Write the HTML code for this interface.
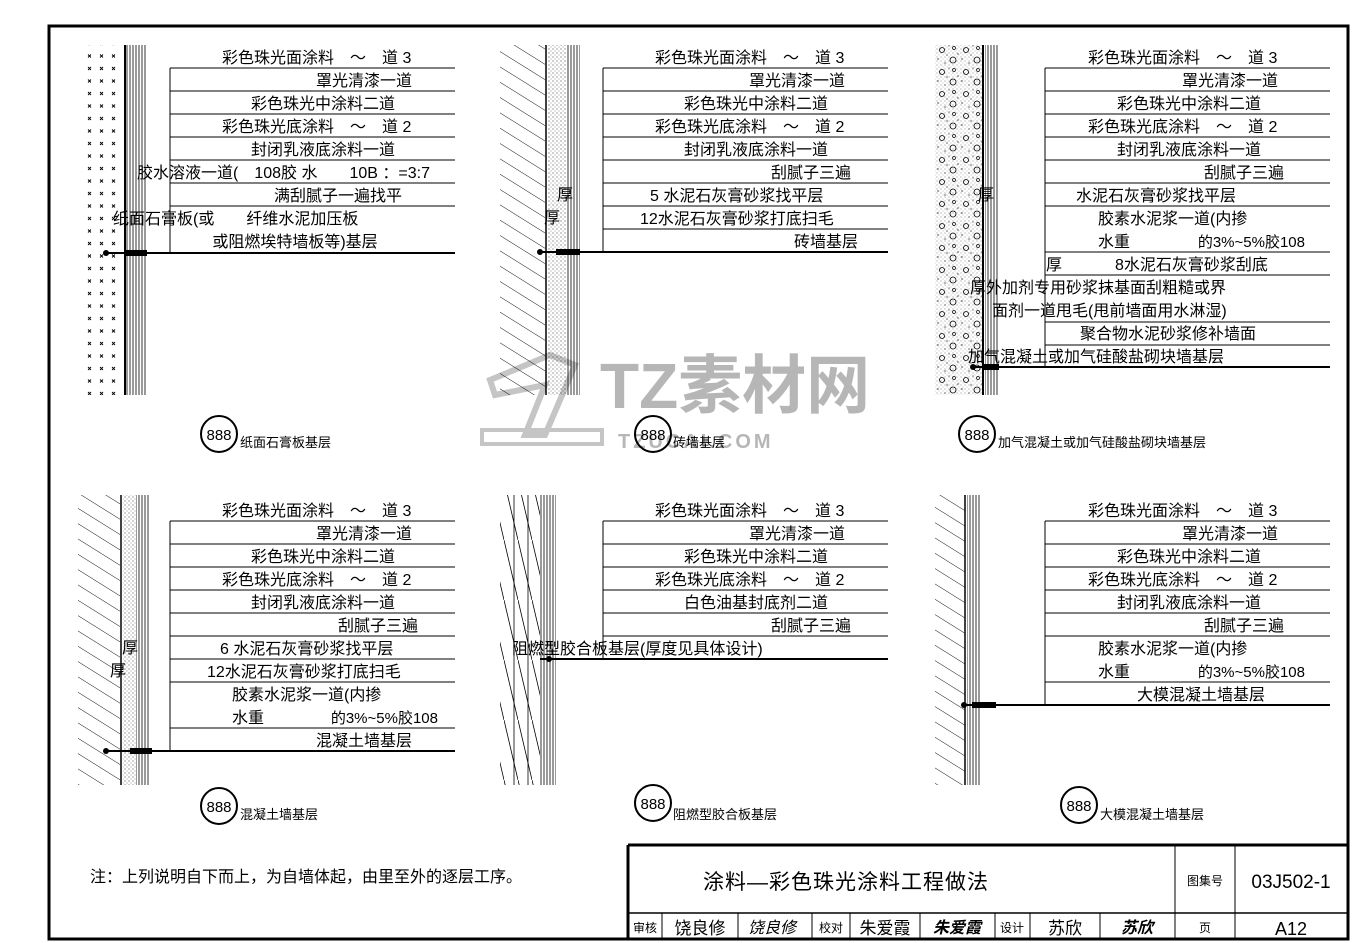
<!DOCTYPE html>
<html><head><meta charset="utf-8"><style>
html,body{margin:0;padding:0;background:#fff;}
svg{display:block}
text{font-family:"Liberation Sans","Noto Sans CJK SC",sans-serif;font-size:16px;fill:#000}
.s{font-size:13px}
</style></head><body>
<svg width="1366" height="943" viewBox="0 0 1366 943" xmlns="http://www.w3.org/2000/svg">
<defs>
<pattern id="xp" width="12" height="12.5" patternUnits="userSpaceOnUse"><path d="M4 4.5l3 3M7 4.5l-3 3" stroke="#000" stroke-width="0.9"/></pattern>
<pattern id="vl" width="3" height="10" patternUnits="userSpaceOnUse"><line x1="1" y1="0" x2="1" y2="10" stroke="#000" stroke-width="0.8"/></pattern>
<pattern id="hatch" width="13" height="20" patternUnits="userSpaceOnUse" patternTransform="rotate(-58)"><line x1="0" y1="0" x2="0" y2="20" stroke="#000" stroke-width="0.9"/></pattern>
<pattern id="dots" width="4" height="4" patternUnits="userSpaceOnUse"><circle cx="1" cy="1" r="0.5" fill="#000"/><circle cx="3" cy="3" r="0.4" fill="#000"/></pattern>
<pattern id="circ" width="24" height="22" patternUnits="userSpaceOnUse"><circle cx="6" cy="6" r="2.5" fill="none" stroke="#000" stroke-width="0.8"/><circle cx="17" cy="16" r="3" fill="none" stroke="#000" stroke-width="0.8"/><circle cx="18" cy="4" r="1.5" fill="none" stroke="#000" stroke-width="0.7"/><circle cx="2" cy="15" r="0.6" fill="#000"/><circle cx="11" cy="11" r="0.6" fill="#000"/><circle cx="22" cy="10" r="0.6" fill="#000"/><circle cx="9" cy="19" r="0.6" fill="#000"/><circle cx="13" cy="2" r="0.5" fill="#000"/></pattern>
<pattern id="wood" width="14" height="60" patternUnits="userSpaceOnUse"><line x1="0" y1="0" x2="14" y2="60" stroke="#000" stroke-width="0.8"/></pattern>
</defs>
<rect x="49" y="26" width="1299" height="913" fill="none" stroke="#000" stroke-width="3"/>

<g opacity="0.85">
<text x="600" y="408" style="font-size:64px;font-weight:bold;fill:#aaa">TZ素材网</text>
<text x="618" y="448" style="font-size:20px;font-weight:bold;fill:#aaa;letter-spacing:3px">TZUCAI.COM</text>
<path d="M490 380l60-25 25 10-30 70h-20l20-50-50 10z" fill="none" stroke="#bbb" stroke-width="6"/>
<rect x="482" y="430" width="120" height="14" fill="none" stroke="#bbb" stroke-width="4"/>
</g>

<rect x="80" y="45" width="42" height="350" fill="url(#xp)"/>
<rect x="125" y="45" width="22" height="350" fill="url(#vl)"/>
<line x1="125" y1="45" x2="125" y2="395" stroke="#000" stroke-width="2"/>
<rect x="500" y="45" width="45" height="350" fill="url(#hatch)"/>
<line x1="546" y1="45" x2="546" y2="395" stroke="#000" stroke-width="1.5"/>
<rect x="548" y="45" width="18" height="350" fill="url(#dots)"/>
<rect x="566" y="45" width="14" height="350" fill="url(#vl)"/>
<rect x="935" y="45" width="48" height="350" fill="url(#circ)"/>
<rect x="935" y="45" width="48" height="350" fill="url(#dots)" opacity="0.6"/>
<line x1="983" y1="45" x2="983" y2="395" stroke="#000" stroke-width="2"/>
<rect x="985" y="45" width="14" height="350" fill="url(#vl)"/>
<rect x="78" y="495" width="42" height="290" fill="url(#hatch)"/>
<line x1="121" y1="495" x2="121" y2="785" stroke="#000" stroke-width="1.5"/>
<rect x="123" y="495" width="13" height="290" fill="url(#dots)"/>
<rect x="136" y="495" width="14" height="290" fill="url(#vl)"/>
<rect x="500" y="495" width="40" height="290" fill="url(#wood)"/>
<line x1="514" y1="495" x2="514" y2="785" stroke="#000" stroke-width="0.8"/>
<line x1="528" y1="495" x2="528" y2="785" stroke="#000" stroke-width="0.8"/>
<rect x="540" y="495" width="16" height="290" fill="url(#vl)"/>
<rect x="935" y="495" width="30" height="290" fill="url(#hatch)"/>
<line x1="965" y1="495" x2="965" y2="785" stroke="#000" stroke-width="1.5"/>
<rect x="967" y="495" width="14" height="290" fill="url(#vl)"/>

<g stroke="#000" stroke-width="1">
<path d="M170 68V253M170 68H455M170 91H455M170 114H455M170 137H455M170 160H455M170 183H455M170 206H455"/>
<path d="M603 68V252M603 68H888M603 91H888M603 114H888M603 137H888M603 160H888M603 183H888M603 206H888M603 229H888"/>
<path d="M1045 68V367M1045 68H1330M1045 91H1330M1045 114H1330M1045 137H1330M1045 160H1330M1045 183H1330M1045 206H1330M1045 252H1330M1045 275H1330M1045 322H1330M1045 345H1330"/>
<path d="M170 521V751M170 521H455M170 544H455M170 567H455M170 590H455M170 613H455M170 636H455M170 659H455M170 682H455M170 728H455"/>
<path d="M603 521V659M603 521H888M603 544H888M603 567H888M603 590H888M603 613H888M603 636H888"/>
<path d="M1045 521V705M1045 521H1330M1045 544H1330M1045 567H1330M1045 590H1330M1045 613H1330M1045 636H1330M1045 682H1330"/>
</g>
<g stroke="#000" stroke-width="2">
<line x1="105" y1="253" x2="455" y2="253"/>
<line x1="540" y1="252" x2="888" y2="252"/>
<line x1="972" y1="367" x2="1330" y2="367"/>
<line x1="105" y1="751" x2="455" y2="751"/>
<line x1="540" y1="659" x2="888" y2="659"/>
<line x1="963" y1="705" x2="1330" y2="705"/>
</g>
<g fill="#000">
<circle cx="106" cy="253" r="3"/><rect x="125" y="250" width="22" height="6"/>
<circle cx="540" cy="252" r="3"/><rect x="556" y="249" width="24" height="6"/>
<circle cx="973" cy="367" r="3"/><rect x="983" y="364" width="16" height="6"/>
<circle cx="106" cy="751" r="3"/><rect x="130" y="748" width="22" height="6"/>
<circle cx="549" cy="659" r="3"/>
<circle cx="964" cy="705" r="3"/><rect x="972" y="702" width="24" height="6"/>
</g>

<g>
<text x="222" y="63">彩色珠光面涂料　～　道 3</text>
<text x="412" y="86" text-anchor="end">罩光清漆一道</text>
<text x="323" y="109" text-anchor="middle">彩色珠光中涂料二道</text>
<text x="222" y="132">彩色珠光底涂料　～　道 2</text>
<text x="323" y="155" text-anchor="middle">封闭乳液底涂料一道</text>
<text x="137" y="178">胶水溶液一道(　108胶 水　　10B ：=3:7</text>
<text x="338" y="201" text-anchor="middle">满刮腻子一遍找平</text>
<text x="113" y="224">纸面石膏板(或　　纤维水泥加压板</text>
<text x="295" y="247" text-anchor="middle">或阻燃埃特墙板等)基层</text>
</g>
<g>
<text x="655" y="63">彩色珠光面涂料　～　道 3</text>
<text x="845" y="86" text-anchor="end">罩光清漆一道</text>
<text x="756" y="109" text-anchor="middle">彩色珠光中涂料二道</text>
<text x="655" y="132">彩色珠光底涂料　～　道 2</text>
<text x="756" y="155" text-anchor="middle">封闭乳液底涂料一道</text>
<text x="851" y="178" text-anchor="end">刮腻子三遍</text>
<text x="557" y="200">厚</text>
<text x="650" y="201">5 水泥石灰膏砂浆找平层</text>
<text x="544" y="223">厚</text>
<text x="640" y="224">12水泥石灰膏砂浆打底扫毛</text>
<text x="858" y="247" text-anchor="end">砖墙基层</text>
</g>
<g>
<text x="1088" y="63">彩色珠光面涂料　～　道 3</text>
<text x="1278" y="86" text-anchor="end">罩光清漆一道</text>
<text x="1189" y="109" text-anchor="middle">彩色珠光中涂料二道</text>
<text x="1088" y="132">彩色珠光底涂料　～　道 2</text>
<text x="1189" y="155" text-anchor="middle">封闭乳液底涂料一道</text>
<text x="1284" y="178" text-anchor="end">刮腻子三遍</text>
<text x="978" y="200">厚</text>
<text x="1076" y="201">水泥石灰膏砂浆找平层</text>
<text x="1098" y="224">胶素水泥浆一道(内掺</text>
<text x="1098" y="247">水重</text>
<text x="1305" y="247" text-anchor="end" style="font-size:15px">的3%~5%胶108</text>
<text x="1046" y="270">厚</text>
<text x="1115" y="270">8水泥石灰膏砂浆刮底</text>
<text x="970" y="293">厚外加剂专用砂浆抹基面刮粗糙或界</text>
<text x="992" y="316">面剂一道甩毛(甩前墙面用水淋湿)</text>
<text x="1080" y="339">聚合物水泥砂浆修补墙面</text>
<text x="968" y="362">加气混凝土或加气硅酸盐砌块墙基层</text>
</g>
<g>
<text x="222" y="516">彩色珠光面涂料　～　道 3</text>
<text x="412" y="539" text-anchor="end">罩光清漆一道</text>
<text x="323" y="562" text-anchor="middle">彩色珠光中涂料二道</text>
<text x="222" y="585">彩色珠光底涂料　～　道 2</text>
<text x="323" y="608" text-anchor="middle">封闭乳液底涂料一道</text>
<text x="418" y="631" text-anchor="end">刮腻子三遍</text>
<text x="122" y="653">厚</text>
<text x="220" y="654">6 水泥石灰膏砂浆找平层</text>
<text x="110" y="676">厚</text>
<text x="207" y="677">12水泥石灰膏砂浆打底扫毛</text>
<text x="232" y="700">胶素水泥浆一道(内掺</text>
<text x="232" y="723">水重</text>
<text x="438" y="723" text-anchor="end" style="font-size:15px">的3%~5%胶108</text>
<text x="412" y="746" text-anchor="end">混凝土墙基层</text>
</g>
<g>
<text x="655" y="516">彩色珠光面涂料　～　道 3</text>
<text x="845" y="539" text-anchor="end">罩光清漆一道</text>
<text x="756" y="562" text-anchor="middle">彩色珠光中涂料二道</text>
<text x="655" y="585">彩色珠光底涂料　～　道 2</text>
<text x="756" y="608" text-anchor="middle">白色油基封底剂二道</text>
<text x="851" y="631" text-anchor="end">刮腻子三遍</text>
<text x="512" y="654">阻燃型胶合板基层(厚度见具体设计)</text>
</g>
<g>
<text x="1088" y="516">彩色珠光面涂料　～　道 3</text>
<text x="1278" y="539" text-anchor="end">罩光清漆一道</text>
<text x="1189" y="562" text-anchor="middle">彩色珠光中涂料二道</text>
<text x="1088" y="585">彩色珠光底涂料　～　道 2</text>
<text x="1189" y="608" text-anchor="middle">封闭乳液底涂料一道</text>
<text x="1284" y="631" text-anchor="end">刮腻子三遍</text>
<text x="1098" y="654">胶素水泥浆一道(内掺</text>
<text x="1098" y="677">水重</text>
<text x="1305" y="677" text-anchor="end" style="font-size:15px">的3%~5%胶108</text>
<text x="1265" y="700" text-anchor="end">大模混凝土墙基层</text>
</g>

<g fill="none" stroke="#000" stroke-width="2">
<circle cx="219" cy="434" r="18"/><circle cx="653" cy="434" r="18"/><circle cx="977" cy="434" r="18"/>
<circle cx="219" cy="806" r="18"/><circle cx="653" cy="803" r="18"/><circle cx="1079" cy="805" r="18"/>
</g>
<text x="219" y="440" text-anchor="middle" style="font-size:15px">888</text>
<text x="653" y="440" text-anchor="middle" style="font-size:15px">888</text>
<text x="977" y="440" text-anchor="middle" style="font-size:15px">888</text>
<text x="219" y="812" text-anchor="middle" style="font-size:15px">888</text>
<text x="653" y="809" text-anchor="middle" style="font-size:15px">888</text>
<text x="1079" y="811" text-anchor="middle" style="font-size:15px">888</text>
<text class="s" x="240" y="447">纸面石膏板基层</text>
<text class="s" x="673" y="447">砖墙基层</text>
<text class="s" x="998" y="447">加气混凝土或加气硅酸盐砌块墙基层</text>
<text class="s" x="240" y="819">混凝土墙基层</text>
<text class="s" x="673" y="819">阻燃型胶合板基层</text>
<text class="s" x="1100" y="819">大模混凝土墙基层</text>

<text x="90" y="882">注：上列说明自下而上，为自墙体起，由里至外的逐层工序。</text>

<g stroke="#000" fill="none">
<path d="M628 845H1348M628 845V940" stroke-width="3"/>
<path d="M628 913H1348" stroke-width="1.5"/>
<path d="M1175 845V940M1235 845V940M662 913V940M738 913V940M812 913V940M850 913V940M920 913V940M995 913V940M1030 913V940M1100 913V940" stroke-width="1"/>
</g>
<text x="703" y="889" style="font-size:21px;letter-spacing:1px">涂料—彩色珠光涂料工程做法</text>
<text x="1205" y="885" text-anchor="middle" style="font-size:12px">图集号</text>
<text x="1291" y="888" text-anchor="middle" style="font-size:19px">03J502-1</text>
<text x="645" y="932" text-anchor="middle" style="font-size:12px">审核</text>
<text x="700" y="934" text-anchor="middle" style="font-size:17px">饶良修</text>
<text x="772" y="933" text-anchor="middle" style="font-size:16px;font-style:italic">饶良修</text>
<text x="831" y="932" text-anchor="middle" style="font-size:12px">校对</text>
<text x="885" y="934" text-anchor="middle" style="font-size:17px">朱爱霞</text>
<text x="957" y="933" text-anchor="middle" style="font-size:16px;font-style:italic;font-weight:bold">朱爱霞</text>
<text x="1012" y="932" text-anchor="middle" style="font-size:12px">设计</text>
<text x="1065" y="934" text-anchor="middle" style="font-size:17px">苏欣</text>
<text x="1137" y="933" text-anchor="middle" style="font-size:16px;font-style:italic;font-weight:bold">苏欣</text>
<text x="1205" y="932" text-anchor="middle" style="font-size:12px">页</text>
<text x="1291" y="935" text-anchor="middle" style="font-size:18px">A12</text>
</svg>
</body></html>
